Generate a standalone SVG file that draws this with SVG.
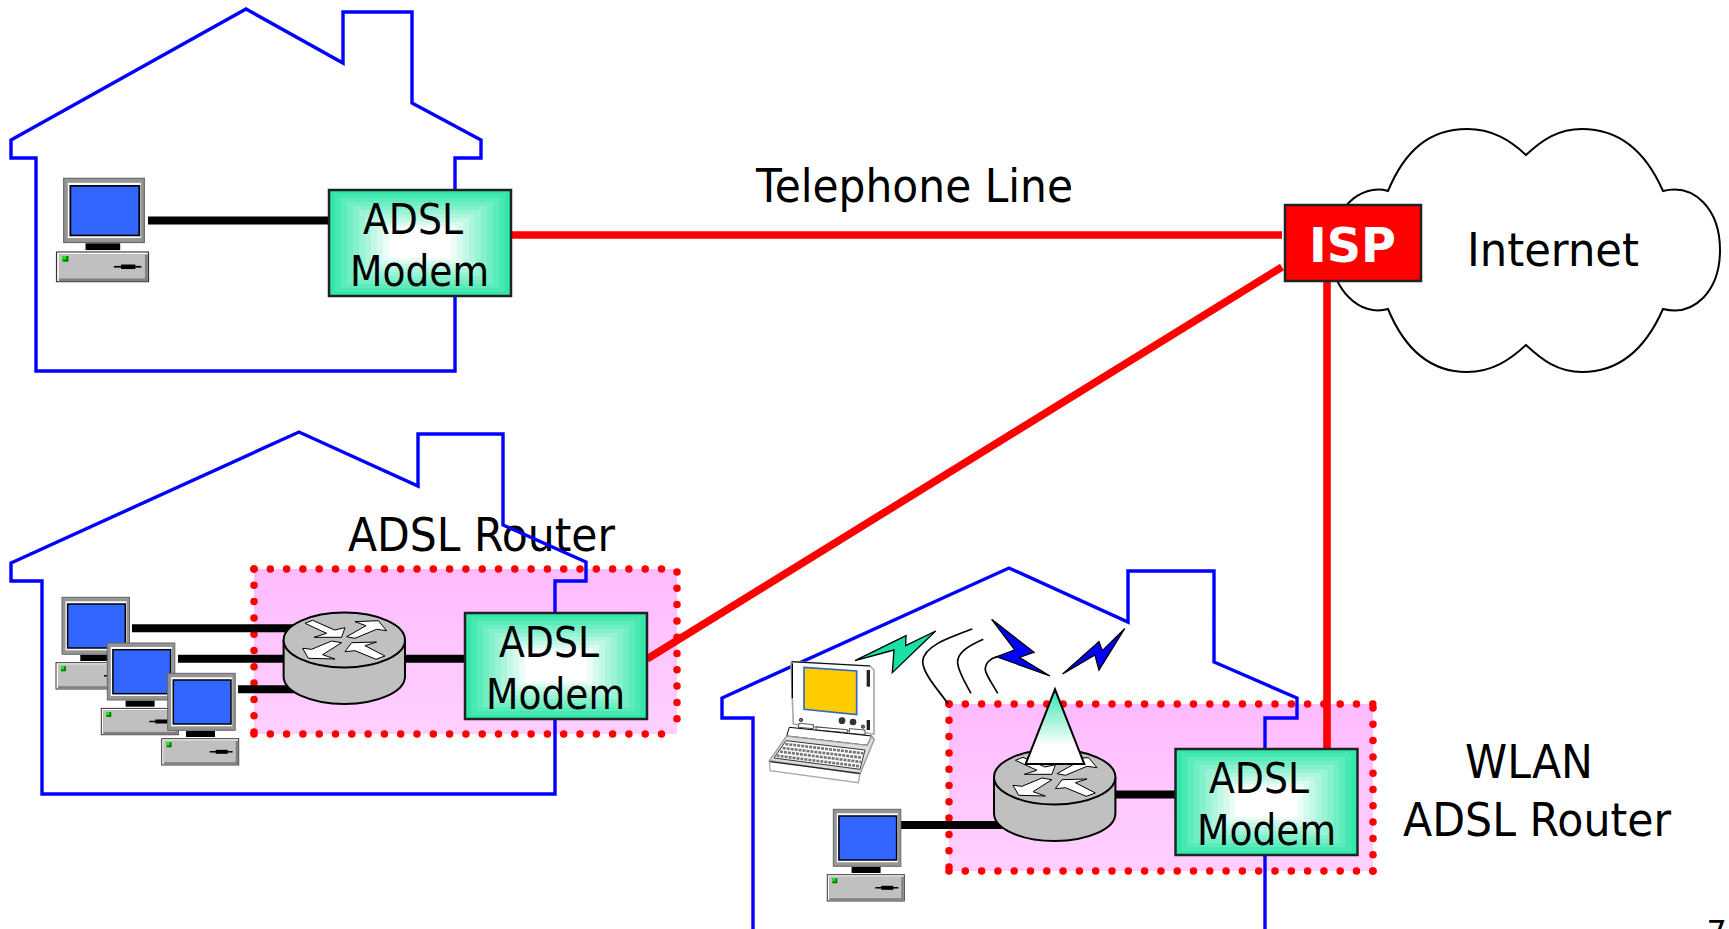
<svg xmlns="http://www.w3.org/2000/svg" xmlns:xlink="http://www.w3.org/1999/xlink" width="1729" height="929" viewBox="0 0 1729 929">
<style>
text{font-family:"DejaVu Sans","Liberation Sans",sans-serif;font-size:43px;fill:#000}
text.big{font-size:47px}
.house{fill:none;stroke:#0000ff;stroke-width:3.4;stroke-linejoin:miter}
.red{stroke:#ff0000;stroke-width:7.6;fill:none}
.blk{stroke:#000;stroke-width:8;fill:none}
.dots{stroke:#ff0000;stroke-width:7.5;stroke-linecap:round;stroke-dasharray:0 16.3;fill:none}
.arrow{fill:#fff;stroke:#000;stroke-width:1}
.curve{fill:none;stroke:#000;stroke-width:2}
.bolt{stroke:#000;stroke-width:1.5}
</style>
<defs>
<linearGradient id="pink" x1="0" y1="0" x2="0" y2="1"><stop offset="0" stop-color="#ffbbff"/><stop offset="1" stop-color="#ffd0ff"/></linearGradient>
<linearGradient id="cone" x1="0" y1="0" x2="0" y2="1"><stop offset="0" stop-color="#33e6aa"/><stop offset="0.75" stop-color="#ffffff"/></linearGradient>
<g id="modemBox">
<rect x="0" y="0" width="182" height="106" fill="#33e6aa"/>
<rect x="6" y="4" width="170" height="98" fill="#47e9b3"/>
<rect x="12" y="8" width="158" height="90" fill="#5cebbb"/>
<rect x="18" y="12" width="146" height="82" fill="#70eec4"/>
<rect x="24" y="16" width="134" height="74" fill="#85f0cc"/>
<rect x="30" y="20" width="122" height="66" fill="#99f3d5"/>
<rect x="36" y="24" width="110" height="58" fill="#adf5dd"/>
<rect x="42" y="28" width="98" height="50" fill="#c2f8e6"/>
<rect x="48" y="32" width="86" height="42" fill="#d6faee"/>
<rect x="54" y="35" width="74" height="36" fill="#ebfdf7"/>
<rect x="60" y="38" width="62" height="30" fill="#fff"/>
<rect x="0" y="0" width="182" height="106" fill="none" stroke="#222" stroke-width="2.5"/>
</g>
<g id="pc">
<rect x="6" y="0" width="67.5" height="57" fill="#969696" stroke="#666" stroke-width="1"/>
<rect x="9.5" y="4" width="61" height="49" fill="#fff"/>
<rect x="11.6" y="6.7" width="57.7" height="44" fill="#3366ff" stroke="#000" stroke-width="1.5"/>
<rect x="24.3" y="57.7" width="29" height="6" fill="#000"/>
<rect x="0" y="65.4" width="77" height="26.3" fill="#fff" stroke="#333" stroke-width="1"/>
<rect x="2" y="67.4" width="74.5" height="24" fill="#808080"/>
<rect x="2" y="67.4" width="72" height="21.5" fill="#c0c0c0"/>
<rect x="5" y="69" width="5" height="5" fill="#008000"/>
<rect x="5" y="69" width="3" height="3" fill="#00ff00"/>
<line x1="48" y1="78.5" x2="71" y2="78.5" stroke="#000" stroke-width="1.5"/>
<rect x="54" y="76.5" width="12" height="4" fill="#000"/>
</g>
<g id="routerBody">
<path d="M-60.7,0 V36.5 A60.7,27.5 0 0 0 60.7,36.5 V0" fill="#c0c0c0" stroke="#000" stroke-width="2"/>
<ellipse cx="0" cy="0" rx="60.7" ry="27.5" fill="#c0c0c0" stroke="#000" stroke-width="2"/>
<polygon class="arrow" points="-39.3,-16.7 -31.7,-19.7 -9.7,-10 0.7,-12.3 -2.7,-2.7 -30.3,-2.7 -17.7,-6.7"/>
<polygon class="arrow" points="2.3,-3.3 10.7,-1.7 32.3,-10.7 42.3,-9.3 34,-19.3 10.7,-18.3 21.7,-14.3"/>
<polygon class="arrow" points="-2.7,2.7 -12.7,1 -32.7,9.3 -41.7,8.3 -36,18.3 -9.3,19 -21.7,14.7"/>
<polygon class="arrow" points="40.7,16 31.7,19.3 10.7,10.7 0.7,11.7 7.3,2.7 32.3,2 20.7,5.7"/>
</g>
</defs>
<rect width="1729" height="929" fill="#fff"/>

<g id="router-zone-2">
<rect x="254" y="569" width="423" height="165" fill="url(#pink)"/>
<line class="dots" x1="254" y1="569" x2="677" y2="569"/>
<line class="dots" x1="254" y1="569" x2="254" y2="734"/>
<line class="dots" x1="254" y1="734" x2="677" y2="734"/>
<line class="dots" x1="677" y1="572" x2="677" y2="734"/>
</g>
<g id="router-zone-3">
<rect x="949" y="704" width="424" height="167" fill="url(#pink)"/>
<line class="dots" x1="949" y1="704" x2="1373" y2="704"/>
<line class="dots" x1="949" y1="704" x2="949" y2="871"/>
<line class="dots" x1="949" y1="871" x2="1373" y2="871"/>
<line class="dots" x1="1373" y1="708" x2="1373" y2="871"/>
</g>

<g id="label-adsl-router"><text class="big" x="348" y="551" textLength="267" lengthAdjust="spacingAndGlyphs">ADSL Router</text></g>

<g id="house1"><path class="house" d="M11,140 L246,9 L343,63 V12 H412 V103 L481,140 V158 H455 V371 H36 V158 H11 Z"/></g>
<g id="house2"><path class="house" d="M11,563 L299,432 L418,486 V434 H503 V525 L586,562 V581 H555 V794 H42 V581 H11 Z"/></g>
<g id="house3"><path class="house" d="M753,935 V718 H722 V698 L1009,568 L1128,622 V571 H1214 V662 L1297,698 V718 H1265 V935"/></g>

<g id="cloud"><path d="M1388,191 C1405,150 1430,129 1467,129 C1492,129 1510,140 1526,155 C1542,140 1558,129 1582,129 C1618,129 1645,150 1663,191 C1695,183 1720,210 1720,250 C1720,290 1695,317 1663,309 C1645,350 1618,372 1582,372 C1558,372 1542,360 1526,345 C1510,360 1492,372 1467,372 C1430,372 1405,350 1388,309 C1360,317 1331,290 1331,250 C1331,210 1360,183 1388,191 Z" fill="#fff" stroke="#000" stroke-width="2"/>
<text class="big" x="1467" y="266" textLength="172" lengthAdjust="spacingAndGlyphs">Internet</text></g>

<g id="connectors">
<line class="red" x1="511" y1="235" x2="1282" y2="235"/>
<line class="red" x1="647" y1="659" x2="1282" y2="267"/>
<line class="red" x1="1327" y1="281" x2="1327" y2="749"/>
<line class="blk" x1="148" y1="220.5" x2="329" y2="220.5"/>
<line class="blk" x1="132" y1="628.3" x2="300" y2="628.3"/>
<line class="blk" x1="178" y1="658.7" x2="300" y2="658.7"/>
<line class="blk" x1="238" y1="689.3" x2="300" y2="689.3"/>
<line class="blk" x1="400" y1="658.7" x2="465" y2="658.7"/>
<line class="blk" x1="901" y1="825" x2="1010" y2="825"/>
<line class="blk" x1="1110" y1="794.5" x2="1175" y2="794.5"/>
</g>

<g id="pc1"><use xlink:href="#pc" href="#pc" transform="translate(56.5,178.3) scale(1.195,1.127)"/></g>
<g id="modem1"><use xlink:href="#modemBox" href="#modemBox" transform="translate(329,190)"/>
<text x="363" y="234" textLength="100" lengthAdjust="spacingAndGlyphs">ADSL</text>
<text x="350" y="286" textLength="139" lengthAdjust="spacingAndGlyphs">Modem</text></g>

<g id="pc2a"><use xlink:href="#pc" href="#pc" transform="translate(56,597.3)"/></g>
<g id="pc2b"><use xlink:href="#pc" href="#pc" transform="translate(101.3,643)"/></g>
<g id="pc2c"><use xlink:href="#pc" href="#pc" transform="translate(161.7,673.3)"/></g>
<g id="router2"><use xlink:href="#routerBody" href="#routerBody" transform="translate(344.3,640)"/></g>
<g id="modem2"><use xlink:href="#modemBox" href="#modemBox" transform="translate(465,613)"/>
<text x="499" y="657" textLength="100" lengthAdjust="spacingAndGlyphs">ADSL</text>
<text x="486" y="709" textLength="139" lengthAdjust="spacingAndGlyphs">Modem</text></g>

<g id="pc3"><use xlink:href="#pc" href="#pc" transform="translate(827.3,809.3)"/></g>
<g id="router3"><use xlink:href="#routerBody" href="#routerBody" transform="translate(1054.7,777)"/>
<polygon points="1055,689.3 1025.7,764 1084.3,764" fill="url(#cone)" stroke="#000" stroke-width="2"/></g>
<g id="modem3"><use xlink:href="#modemBox" href="#modemBox" transform="translate(1175.5,749)"/>
<text x="1209" y="793" textLength="100" lengthAdjust="spacingAndGlyphs">ADSL</text>
<text x="1197" y="845" textLength="139" lengthAdjust="spacingAndGlyphs">Modem</text></g>

<g id="laptop" transform="translate(760,610) scale(0.3333)">
<polygon points="95,155 330,168 342,180 342,372 100,342 93,160" fill="#fff" stroke="#aaa" stroke-width="5"/>
<line x1="97" y1="160" x2="97" y2="265" stroke="#000" stroke-width="4"/>
<line x1="95" y1="155" x2="330" y2="168" stroke="#000" stroke-width="3"/>
<polygon points="132,172 290,183 290,314 132,298" fill="#ffcc00" stroke="#3366cc" stroke-width="5"/>
<rect x="320" y="180" width="10" height="50" fill="#222"/>
<rect x="320" y="330" width="10" height="30" fill="#222"/>
<circle cx="123" cy="330" r="5" fill="#777" stroke="#000" stroke-width="2"/>
<circle cx="246" cy="332" r="10" fill="#333"/>
<circle cx="279" cy="336" r="10" fill="#333"/>
<circle cx="309" cy="350" r="5" fill="#777" stroke="#000" stroke-width="2"/>
<polygon points="117,340 160,344 160,356 115,352" fill="#fff" stroke="#000" stroke-width="2"/>
<polygon points="168,351 262,359 262,368 168,360" fill="#fff" stroke="#000" stroke-width="2"/>
<polygon points="268,356 315,360 315,374 268,370" fill="#fff" stroke="#000" stroke-width="2"/>
<polygon points="88,352 335,378 322,406 80,378" fill="#fff" stroke="#000" stroke-width="3"/>
<polygon points="28,452 300,492 343,388 335,378 322,406 80,378" fill="#ddd" stroke="#999" stroke-width="4"/>
<polygon points="78,392 315,420 300,478 42,444" fill="#fff" stroke="#333" stroke-width="3"/>
<g fill="none" stroke="#777" stroke-width="8" stroke-dasharray="9 3">
<line x1="76" y1="402" x2="310" y2="430"/>
<line x1="68" y1="414" x2="306" y2="443"/>
<line x1="60" y1="425" x2="303" y2="456"/>
<line x1="50" y1="437" x2="300" y2="469"/>
</g>
<polygon points="28,452 300,492 295,518 30,482" fill="#fff" stroke="#aaa" stroke-width="4"/>
<line x1="30" y1="455" x2="300" y2="490" stroke="#222" stroke-width="4"/>
</g>

<g id="wireless" transform="translate(760,610) scale(0.3333)">
<polygon class="bolt" style="stroke-width:4" points="285,152 438,77 437,107 527,63 397,188 402,120" fill="#19e0a5"/>
<polygon class="bolt" style="stroke-width:4" points="695,28 822,127 778,142 870,198 710,140 765,120" fill="#0000ff"/>
<polygon class="bolt" style="stroke-width:4" points="908,192 1017,95 1027,122 1094,56 1017,180 1005,135" fill="#0000ff"/>
<path class="curve" style="stroke-width:5" d="M637,57 C560,85 490,110 488,155 C490,195 540,245 565,283"/>
<path class="curve" style="stroke-width:5" d="M670,88 C620,110 590,130 593,160 C597,190 620,225 633,250"/>
<path class="curve" style="stroke-width:5" d="M712,140 C690,145 675,160 676,180 C680,200 700,225 713,250"/>
</g>

<g id="isp">
<rect x="1285" y="205" width="136" height="76" fill="#ff0000" stroke="#222" stroke-width="2.5"/>
<text x="1309" y="262" textLength="87" lengthAdjust="spacingAndGlyphs" style="font-size:48px;font-weight:bold;fill:#fff">ISP</text>
</g>

<g id="labels">
<text class="big" x="756" y="202" textLength="317" lengthAdjust="spacingAndGlyphs">Telephone Line</text>
<text class="big" x="1465" y="778" textLength="128" lengthAdjust="spacingAndGlyphs">WLAN</text>
<text class="big" x="1403" y="836" textLength="268" lengthAdjust="spacingAndGlyphs">ADSL Router</text>
<text x="1706.5" y="942.6" style="font-size:32px">7</text>
</g>
</svg>
